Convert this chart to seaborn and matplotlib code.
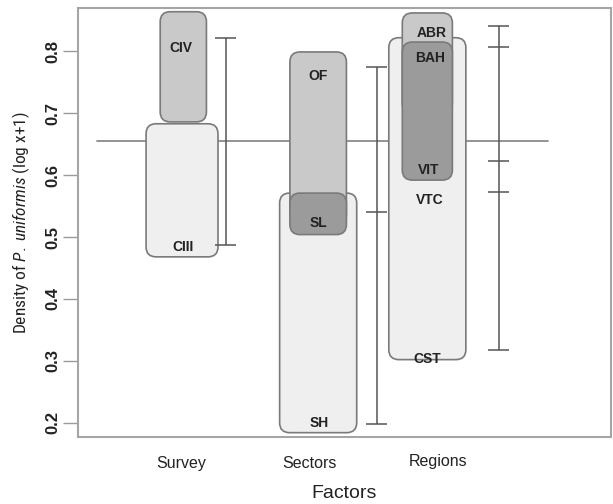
import numpy as np
import matplotlib
matplotlib.use("Agg")
import matplotlib.pyplot as plt
import seaborn as sns
from matplotlib.patches import FancyBboxPatch
from matplotlib.transforms import ScaledTranslation

# data
factors = ["Survey", "Sectors", "Regions"]
box_names = ["CIII", "CIV", "SH", "OF", "SL", "CST", "ABR", "BAH"]
box_low = [0.468, 0.686, 0.184, 0.52, 0.504, 0.302, 0.70, 0.592]
box_high = [0.683, 0.864, 0.571, 0.799, 0.571, 0.822, 0.862, 0.815]
box_shade = ["light", "mid", "light", "mid", "dark", "light", "mid", "dark"]

label_names = ["CIV", "CIII", "OF", "SL", "SH", "ABR", "BAH", "VIT", "VTC", "CST"]
label_y = [0.806, 0.484, 0.760, 0.523, 0.200, 0.830, 0.790, 0.609, 0.560, 0.303]

bar_survey = [0.487, 0.822]
bar_sectors = [0.198, 0.541, 0.775]
bar_regions = [0.318, 0.573, 0.623, 0.807, 0.841]
grand_mean = 0.655

# positions / styles
box_x = [0.01, 0.02, 1.07, 1.07, 1.07, 1.92, 1.92, 1.92]
box_width = [0.56, 0.36, 0.60, 0.44, 0.44, 0.60, 0.39, 0.39]
label_x = [0.0, 0.015, 1.07, 1.07, 1.075, 1.953, 1.945, 1.93, 1.94, 1.92]
bar_x = [0.35, 1.525, 2.475]
shade_col = {"light": "#efefef", "mid": "#c9c9c9", "dark": "#9b9b9b"}
arial = ["Liberation Sans", "DejaVu Sans"]

sns.set_theme(style="white")
plt.rcParams["font.family"] = ["Roboto Condensed", "DejaVu Sans"]
plt.rcParams["mathtext.fontset"] = "custom"
plt.rcParams["mathtext.it"] = "Roboto Condensed:italic"
plt.rcParams["mathtext.rm"] = "Roboto Condensed"

fig = plt.figure(figsize=(6.13, 5.04), dpi=100)
ax = fig.add_axes([78 / 613, 67 / 504, 533 / 613, 429 / 504])
xmin, xmax = -0.80, 3.35
ymin, ymax = 0.177, 0.870
ax.set_xlim(xmin, xmax)
ax.set_ylim(ymin, ymax)

# pixels per unit for rounding corners
px_x = 533 / (xmax - xmin)
px_y = 429 / (ymax - ymin)
aspect = px_x / px_y
r = 10 / px_x

# grand mean line
sns.lineplot(x=[-0.654, 2.856], y=[grand_mean, grand_mean], color="#8a8a8a",
             lw=1.3, ax=ax, zorder=1)

for xo, w, lo, hi, sh in zip(box_x, box_width, box_low, box_high, box_shade):
    p = FancyBboxPatch((xo - w / 2, lo), w, hi - lo,
                       boxstyle=f"round,pad=0,rounding_size={r}",
                       mutation_aspect=aspect, facecolor=shade_col[sh],
                       edgecolor="#7a7a7a", lw=1.2, zorder=2)
    ax.add_patch(p)

for name, x, y in zip(label_names, label_x, label_y):
    ax.text(x, y, name, ha="center", va="center", fontsize=10,
            fontweight="bold", family=arial, color="#222222", zorder=4)

cap = 0.08
for xb, vals in zip(bar_x, [bar_survey, bar_sectors, bar_regions]):
    ax.vlines(xb, min(vals), max(vals), color="#555555", lw=1.1, zorder=3)
    ax.hlines(vals, xb - cap, xb + cap, color="#555555", lw=1.1, zorder=3)

ax.set_xticks([0, 1, 2])
ax.set_xticklabels(factors, fontsize=11.5, color="#222222", family=arial)
ax.tick_params(axis="x", length=0, pad=14)
# "Regions" sits a little higher in the original
lab = ax.get_xticklabels()[2]
lab.set_transform(lab.get_transform() + ScaledTranslation(0, 2 / 100, fig.dpi_scale_trans))

ax.set_yticks([0.2, 0.3, 0.4, 0.5, 0.6, 0.7, 0.8])
ax.set_yticklabels(["0.2", "0.3", "0.4", "0.5", "0.6", "0.7", "0.8"],
                   rotation=90, va="center", fontsize=12, fontweight="bold",
                   color="#222222", family=arial)
ax.tick_params(axis="y", left=True, length=11, width=1, color="#9a9a9a", pad=2)

ax.set_xlabel("Factors", fontsize=14, color="#222222", labelpad=10, family=arial)
ax.set_ylabel(r"Density of $\it{P.}$ $\it{uniformis}$ (log x+1)", fontsize=12.5,
              color="#222222", labelpad=9)

for s in ax.spines.values():
    s.set_color("#a5a5a5")
    s.set_linewidth(1.5)

fig.savefig("out.png", dpi=100)
